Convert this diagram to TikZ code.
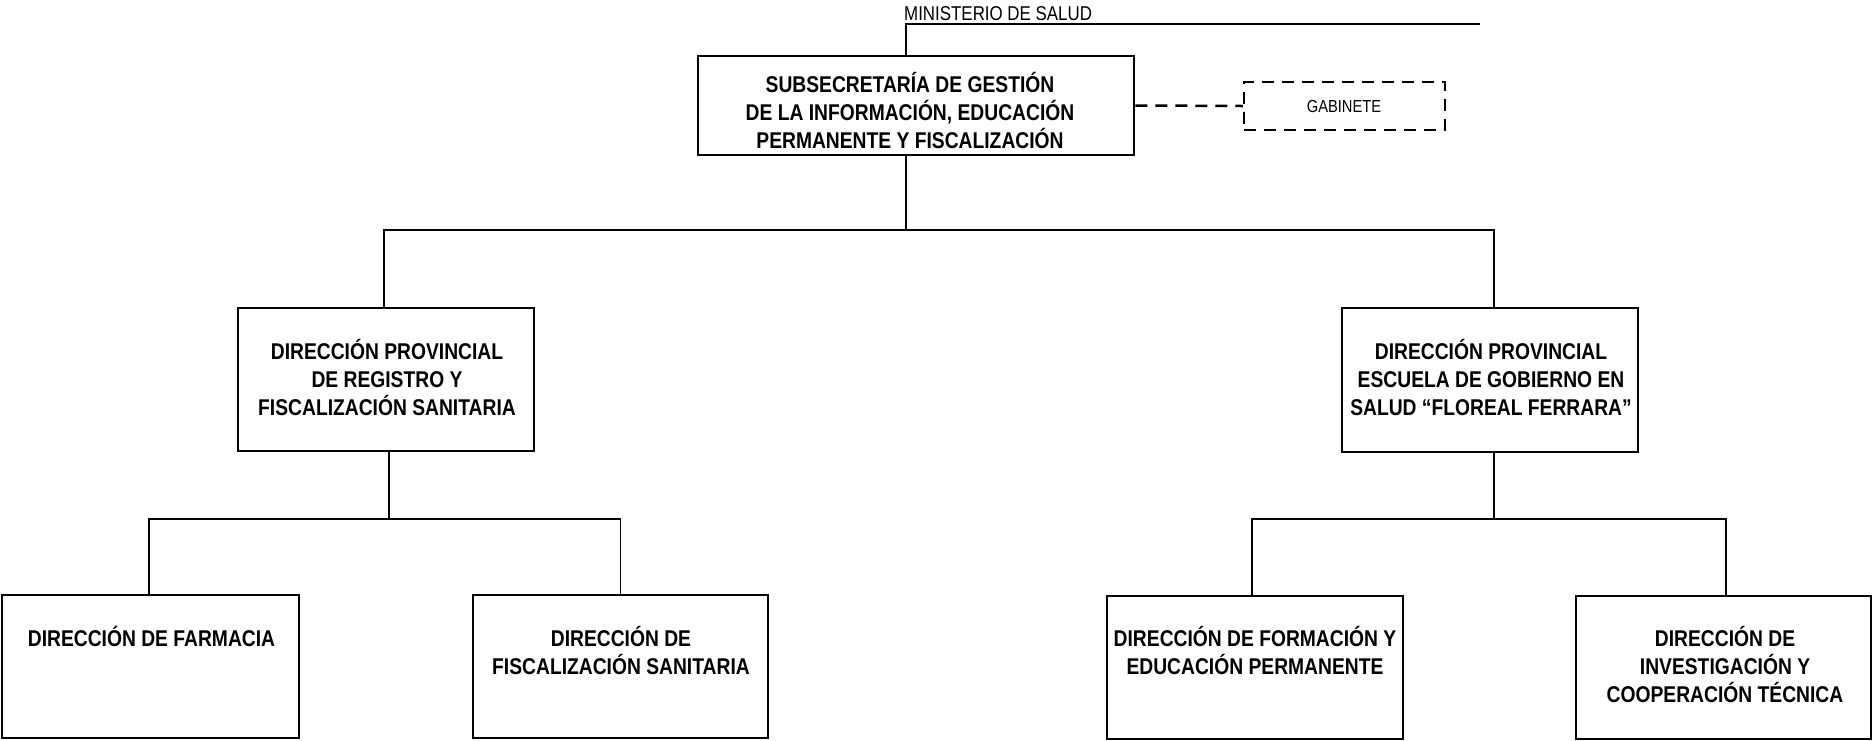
\documentclass[tikz,border=0pt]{standalone}
\usepackage{fontspec}
\setmainfont{Liberation Sans}[FakeStretch=0.845]
\newcommand{\orgtxt}[1]{\parbox[t]{360pt}{\centering\fontsize{22.8}{28}\selectfont\bfseries #1}}
\begin{document}
\begin{tikzpicture}[x=1pt,y=1pt,
  orgbox/.style={draw, line width=2.7pt, rectangle, inner sep=0pt},
  dashbox/.style={draw, line width=2.5pt, dash pattern=on 12pt off 8pt, rectangle, inner sep=0pt},
  txt/.style={inner sep=0pt, anchor=base},
  conn/.style={line width=1.1pt},
  dashconn/.style={line width=2.5pt, dash pattern=on 12pt off 8pt}]
\useasboundingbox (0,0) rectangle (1872,-740);

% boxes
\node[orgbox, minimum width=436pt, minimum height=99pt] (top) at (916,-105.5) {};
\node[dashbox, minimum width=201pt, minimum height=48pt] (gab) at (1344.5,-106) {};
\node[orgbox, minimum width=296pt, minimum height=143pt] (dpl) at (386,-379.5) {};
\node[orgbox, minimum width=296pt, minimum height=144pt] (dpr) at (1490,-380) {};
\node[orgbox, minimum width=297pt, minimum height=143pt] (farm) at (150.5,-666.5) {};
\node[orgbox, minimum width=295pt, minimum height=143pt] (fisc) at (620.5,-666.5) {};
\node[orgbox, minimum width=296pt, minimum height=143pt] (form) at (1255,-667.5) {};
\node[orgbox, minimum width=295pt, minimum height=143pt] (inv) at (1723.5,-667.5) {};

% texts
\node[txt, anchor=base west] (minT) at (904,-20) {\fontsize{20}{22}\selectfont MINISTERIO DE SALUD};
\node[txt] (gabT) at (1344,-112) {\fontsize{17.4}{20}\selectfont GABINETE};
\node[txt] (topT) at (910,-92) {\orgtxt{SUBSECRETARÍA DE GESTIÓN\\DE LA INFORMACIÓN, EDUCACIÓN\\PERMANENTE Y FISCALIZACIÓN}};
\node[txt] (dplT) at (387,-359) {\orgtxt{DIRECCIÓN PROVINCIAL\\DE REGISTRO Y\\FISCALIZACIÓN SANITARIA}};
\node[txt] (dprT) at (1491,-359.5) {\orgtxt{DIRECCIÓN PROVINCIAL\\ESCUELA DE GOBIERNO EN\\SALUD “FLOREAL FERRARA”}};
\node[txt] (farmT) at (151.5,-646) {\orgtxt{DIRECCIÓN DE FARMACIA}};
\node[txt] (fiscT) at (621,-646) {\orgtxt{DIRECCIÓN DE\\FISCALIZACIÓN SANITARIA}};
\node[txt] (formT) at (1255,-646) {\orgtxt{DIRECCIÓN DE FORMACIÓN Y\\EDUCACIÓN PERMANENTE}};
\node[txt] (invT) at (1725,-646) {\orgtxt{DIRECCIÓN DE\\INVESTIGACIÓN Y\\COOPERACIÓN TÉCNICA}};

% junction coordinates
\coordinate (mtop) at (906,-24);
\coordinate (mend) at (1480,-24);
\coordinate (j1) at (906,-230);
\coordinate (j2) at (389,-519);
\coordinate (j3) at (1494,-519);

% connectors
\draw[conn] ([xshift=-10pt]top.north) -- (mtop) -- (mend);
\draw[dashconn] (top.east) -- (gab.west);
\draw[conn] ([xshift=-10pt]top.south) -- (j1);
\draw[conn] ([xshift=-2pt]dpl.north) |- (j1) -| ([xshift=4pt]dpr.north);
\draw[conn] ([xshift=3pt]dpl.south) -- (j2);
\draw[conn] ([xshift=-1.5pt]farm.north) |- (j2) -| (fisc.north);
\draw[conn] ([xshift=4pt]dpr.south) -- (j3);
\draw[conn] ([xshift=-3pt]form.north) |- (j3) -| ([xshift=2.5pt]inv.north);
\end{tikzpicture}
\end{document}
